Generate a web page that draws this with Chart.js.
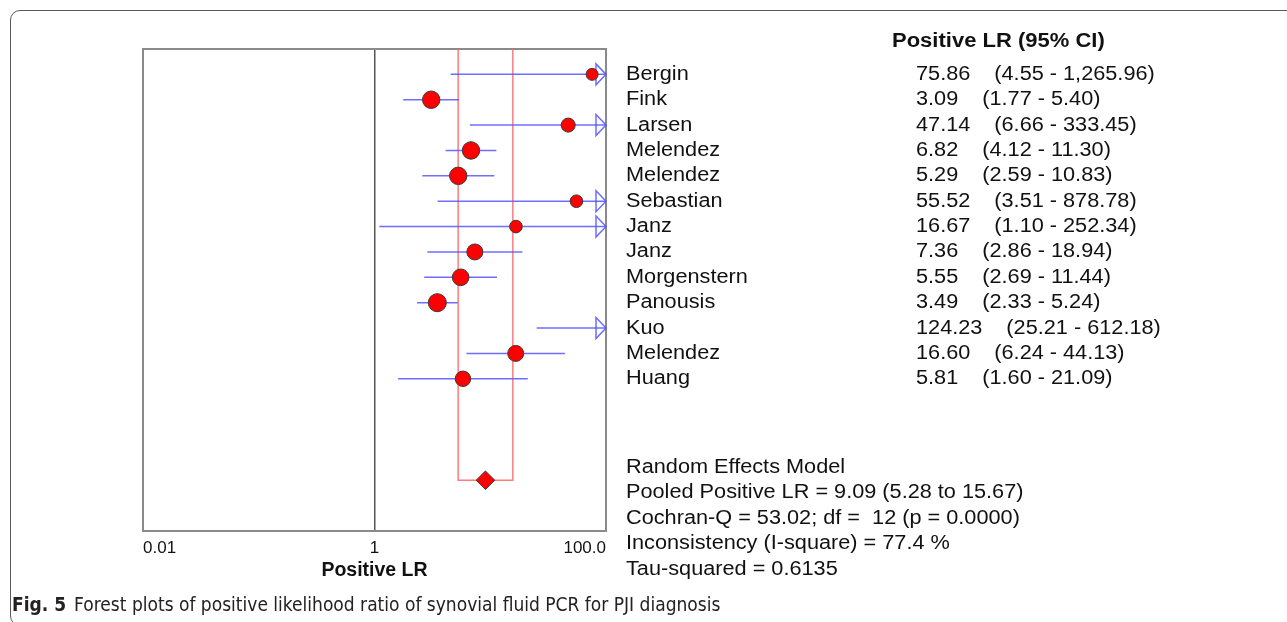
<!DOCTYPE html>
<html><head><meta charset="utf-8">
<script src="https://cdn.jsdelivr.net/npm/chart.js@4.4.1/dist/chart.umd.min.js"></script>
<style>
html,body{margin:0;padding:0;background:#fff;width:1287px;height:622px;overflow:hidden;}
#frame{position:absolute;left:10px;top:10px;width:1400px;height:616px;border:1.5px solid #5a5a5a;border-radius:10px;box-sizing:border-box;}
#c{position:absolute;left:0;top:0;}
#cap{position:absolute;left:12px;top:593px;font-family:"Liberation Sans Narrow","DejaVu Sans Condensed","Open Sans",sans-serif;font-size:19px;color:#222;white-space:nowrap;line-height:22px;}
#cap b{font-weight:bold;margin-right:8px;}
</style></head><body>
<div id="frame"></div>
<canvas id="c" width="1287" height="622"></canvas>
<div id="cap"><b>Fig. 5</b>Forest plots of positive likelihood ratio of synovial fluid PCR for PJI diagnosis</div>
<script>
const studies = ['Bergin','Fink','Larsen','Melendez','Melendez','Sebastian','Janz','Janz','Morgenstern','Panousis','Kuo','Melendez','Huang'];
const lr      = [75.86, 3.09, 47.14, 6.82, 5.29, 55.52, 16.67, 7.36, 5.55, 3.49, 124.23, 16.60, 5.81];
const ciLow   = [4.55, 1.77, 6.66, 4.12, 2.59, 3.51, 1.10, 2.86, 2.69, 2.33, 25.21, 6.24, 1.60];
const ciHigh  = [1265.96, 5.40, 333.45, 11.30, 10.83, 878.78, 252.34, 18.94, 11.44, 5.24, 612.18, 44.13, 21.09];
const weights = [4.6, 9.7, 6.3, 9.7, 9.7, 5.1, 5.1, 8.2, 8.9, 10.4, 6.3, 8.2, 7.6];
const pooled = 9.09, pooledLow = 5.28, pooledHigh = 15.67;
const cochranQ = '53.02', df = '12', pValue = '0.0000', iSquare = '77.4', tauSquared = '0.6135';
const xTicks = [0.01, 1, 100];
const xTickLabels = ['0.01', '1', '100.0'];
const headerText = 'Positive LR (95% CI)';
const axisTitle = 'Positive LR';

const nRows = studies.length;
const pooledRow = nRows + 3;
const xMax = 100;

function fmt(v){ return v.toLocaleString('en-US',{minimumFractionDigits:2, maximumFractionDigits:2}); }

const datasets = [];
datasets.push({
  label:'studies', type:'scatter', order:0, clip:0,
  data: lr.map((v,i)=>({x:v,y:i})),
  pointRadius: weights.map(w=>Math.sqrt(w)*2.8),
  pointBackgroundColor:'#ff0000', pointBorderColor:'#3a3a3a', pointBorderWidth:1
});
datasets.push({
  label:'pooled', type:'scatter', order:0, clip:0,
  data:[{x:pooled,y:pooledRow}],
  pointStyle:'rectRot', pointRadius:9.3,
  pointBackgroundColor:'#ff0000', pointBorderColor:'#3a3a3a', pointBorderWidth:1
});
studies.forEach((s,i)=>{
  datasets.push({
    label:'ci'+i, type:'scatter', order:1, showLine:true, clip:0,
    data:[{x:ciLow[i],y:i},{x:Math.min(ciHigh[i],xMax),y:i}],
    pointRadius:0, borderColor:'rgba(85,85,255,0.85)', borderWidth:1.5
  });
});
datasets.push({
  label:'pooledCI', type:'scatter', order:2, showLine:true, clip:0,
  data:[{x:pooledLow,y:-1},{x:pooledLow,y:pooledRow},{x:pooledHigh,y:pooledRow},{x:pooledHigh,y:-1}],
  pointRadius:0, borderColor:'rgba(255,110,110,0.9)', borderWidth:1.5
});

function txt(ctx, s, x, y, font, sx){
  ctx.save(); ctx.font = font; ctx.textBaseline='middle'; ctx.textAlign='left'; ctx.fillStyle='#111';
  const w = ctx.measureText(s).width*sx;
  ctx.translate(x,y); ctx.scale(sx,1); ctx.fillText(s,0,0); ctx.restore();
  return w;
}

const framePlugin = {
  id:'frame',
  beforeDatasetsDraw(chart){
    const {ctx, chartArea:a} = chart; const xs = chart.scales.x, ys = chart.scales.y;
    ctx.save(); ctx.strokeStyle='#8a8a8a'; ctx.lineWidth=2;
    ctx.strokeRect(a.left, a.top, a.right-a.left, a.bottom-a.top);
    const px = xs.getPixelForValue(xMax);
    ctx.strokeStyle='rgba(85,85,255,0.85)'; ctx.lineWidth=1.5;
    ciHigh.forEach((h,i)=>{
      if (h > xMax){
        const y = ys.getPixelForValue(i);
        ctx.beginPath(); ctx.moveTo(px-10,y-10.5); ctx.lineTo(px,y); ctx.lineTo(px-10,y+10.5); ctx.closePath();
        ctx.stroke();
      }
    });
    ctx.restore();
  },
  afterDraw(chart){
    const {ctx} = chart; const ys = chart.scales.y;
    const F = '20px "Liberation Sans", Arial, sans-serif';
    const FB = 'bold 20px "Liberation Sans", Arial, sans-serif';
    const sx = 1.085;
    txt(ctx, headerText, 892, ys.getPixelForValue(-1.28), FB, 1.1);
    studies.forEach((s,i)=>{
      const y = ys.getPixelForValue(i);
      txt(ctx, s, 626, y, F, sx);
      const w = txt(ctx, lr[i].toFixed(2), 916, y, F, sx);
      txt(ctx, '(' + fmt(ciLow[i]) + ' - ' + fmt(ciHigh[i]) + ')', 916 + w + 24, y, F, sx);
    });
    const foot = [
      'Random Effects Model',
      'Pooled Positive LR = ' + pooled.toFixed(2) + ' (' + pooledLow.toFixed(2) + ' to ' + pooledHigh.toFixed(2) + ')',
      'Cochran-Q = ' + cochranQ + '; df =  ' + df + ' (p = ' + pValue + ')',
      'Inconsistency (I-square) = ' + iSquare + ' %',
      'Tau-squared = ' + tauSquared
    ];
    foot.forEach((s,k)=> txt(ctx, s, 626, ys.getPixelForValue(nRows + 2.5 + k), F, sx));
  }
};

new Chart(document.getElementById('c'), {
  type:'scatter',
  data:{datasets},
  options:{
    responsive:false, animation:false, events:[],
    layout:{padding:{left:143, right:681, top:49, bottom:0}},
    plugins:{legend:{display:false}, tooltip:{enabled:false}},
    scales:{
      x:{
        type:'logarithmic', min:xTicks[0], max:xTicks[xTicks.length-1], position:'bottom',
        afterBuildTicks:s=>{ s.ticks = xTicks.map(v=>({value:v})); },
        afterFit:s=>{ s.height = 91; },
        ticks:{align:'inner', padding:7, autoSkip:false, maxRotation:0, color:'#111',
          font:{family:'"Liberation Sans", Arial, sans-serif', size:17},
          callback:(v,i)=>xTickLabels[i]},
        grid:{drawTicks:false, lineWidth:1.5, color:c=> (c.tick && c.tick.value===1) ? '#555' : 'rgba(0,0,0,0)'},
        border:{display:false},
        title:{display:true, text:axisTitle, color:'#111',
          font:{family:'"Liberation Sans", Arial, sans-serif', size:19.5, weight:'bold'},
          padding:{top:0, bottom:40}}
      },
      y:{type:'linear', min:-1, max:nRows+5, reverse:true, display:false}
    }
  },
  plugins:[framePlugin]
});
</script>
</body></html>
